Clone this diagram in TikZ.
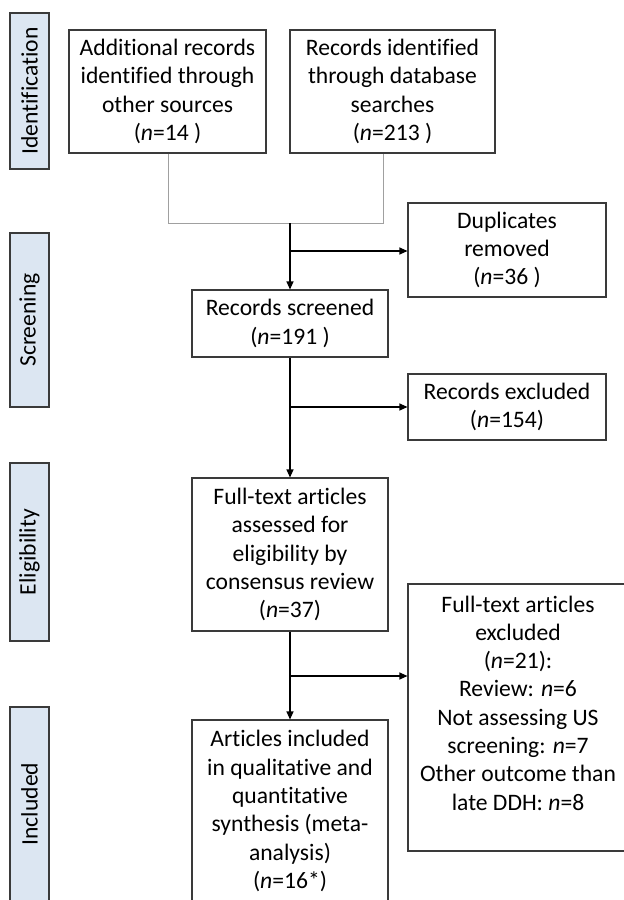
\documentclass[tikz,border=0pt]{standalone}
\usepackage{fontspec}
\setmainfont[Ligatures=NoCommon]{Carlito}
\usetikzlibrary{arrows.meta}
\definecolor{phasefill}{HTML}{DCE6F2}
\definecolor{edgegray}{HTML}{3A3A3A}
\definecolor{mergegray}{HTML}{A0A0A0}
\begin{document}
\begin{tikzpicture}[x=1pt,y=-1pt,
  box/.style={draw=edgegray, line width=1.1pt, align=center, inner sep=0pt,
    font=\fontsize{23.6}{28.3}\selectfont},
  plain/.style={align=center, inner sep=0pt, font=\fontsize{23.6}{28.3}\selectfont},
  phase/.style={draw=edgegray, fill=phasefill, line width=1.1pt, inner sep=0pt,
    rotate=90, minimum height=39pt, font=\fontsize{23.6}{28.3}\selectfont},
  arr/.style={line width=1.1pt, -{Triangle[length=8pt,width=7pt]}},
  ln/.style={line width=1.1pt},
  merge/.style={draw=mergegray, line width=1pt}]
\useasboundingbox (0,0) rectangle (624,900);
\clip (0,0) rectangle (624,900);

% phase bars
\node[phase, minimum width=156pt] (pid) at (29.5,91) {Identification};
\node[phase, minimum width=174pt] (psc) at (29.5,320) {Screening};
\node[phase, minimum width=178pt] (pel) at (29.5,552) {Eligibility};
\node[phase, minimum width=194pt] (pin) at (29.5,804) {Included};

% boxes
\node[box, minimum width=197pt, minimum height=123pt] (other) at (167.5,91.5)
  {Additional records\\identified through\\other sources\\(\textit{n}=14 )};
\node[box, minimum width=205pt, minimum height=123pt] (db) at (392.5,91.5)
  {Records identified\\through database\\searches\\(\textit{n}=213 )};
\node[box, minimum width=198pt, minimum height=94pt] (dup) at (507,250)
  {Duplicates\\removed\\(\textit{n}=36 )};
\node[box, minimum width=196pt, minimum height=67pt] (scr) at (290,323.5)
  {Records screened\\(\textit{n}=191 )};
\node[box, minimum width=198pt, minimum height=66pt] (exc) at (507,407)
  {Records excluded\\(\textit{n}=154)};
\node[box, minimum width=196pt, minimum height=153pt] (full) at (290,554.5)
  {Full-text articles\\assessed for\\eligibility by\\consensus review\\(\textit{n}=37)};
\node[box, minimum width=220pt, minimum height=267pt] (ftx) at (518,717.5) {};
\node[plain] (ftxt) at (518,703)
  {Full-text articles\\excluded\\(\textit{n}=21):\\Review: \textit{n}=6\\Not assessing US\\screening: \textit{n}=7\\Other outcome than\\late DDH: \textit{n}=8};
\node[box, minimum width=196pt, minimum height=182pt] (inc) at (290,811)
  {Articles included\\in qualitative and\\quantitative\\synthesis (meta-\\analysis)\\(\textit{n}=16*)};

% merge bracket
\coordinate (mL) at (168,223);
\coordinate (mR) at (383,223);
\coordinate (m) at (290,223);
\draw[merge] (other.south -| mL) -- (mL) -- (mR) -- ([xshift=-9.5pt]db.south);

% flow
\coordinate (j1) at (290,251);
\coordinate (j2) at (290,407);
\coordinate (j3) at (290,676);
\draw[arr] (m) -- (scr.north);
\draw[arr] (j1) -- (j1 -| dup.west);
\draw[arr] (scr.south) -- (full.north);
\draw[arr] (j2) -- (j2 -| exc.west);
\draw[arr] (full.south) -- (inc.north);
\draw[arr] (j3) -- (j3 -| ftx.west);
\end{tikzpicture}
\end{document}
